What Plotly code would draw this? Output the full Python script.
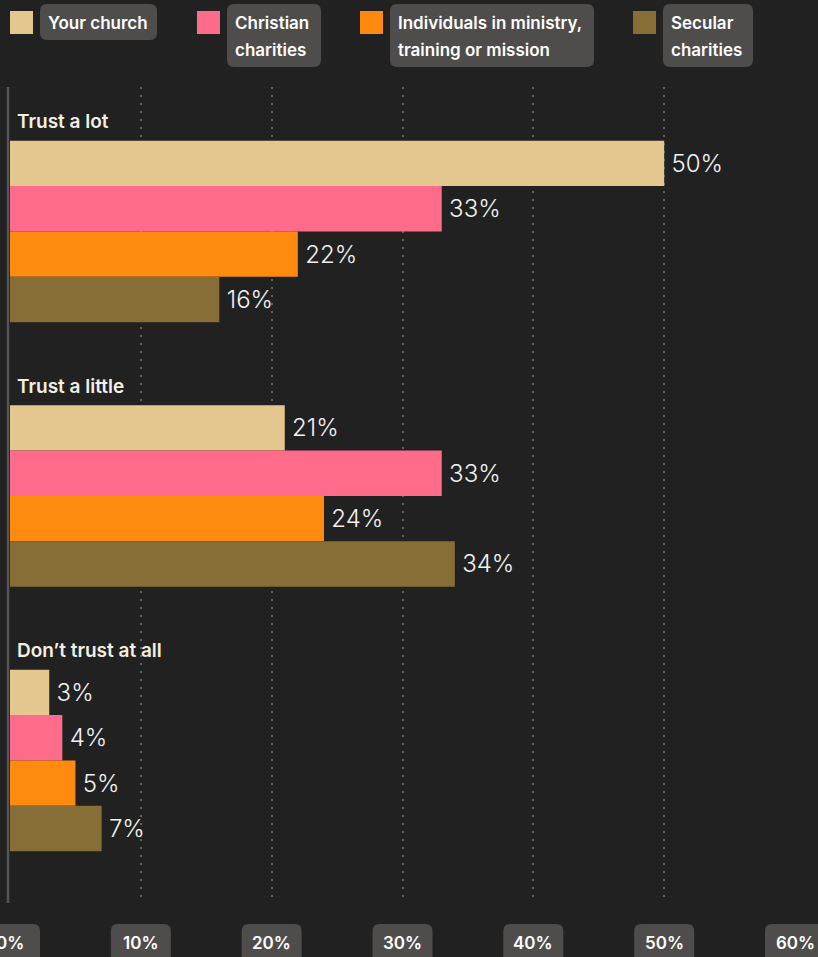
import plotly.graph_objects as go

# ---- data -------------------------------------------------------------
groups = ["Trust a lot", "Trust a little", "Don\u2019t trust at all"]
series_names = ["Your church", "Christian charities",
                "Individuals in ministry, training or mission", "Secular charities"]
legend_lines = [["Your church"], ["Christian", "charities"],
                ["Individuals in ministry,", "training or mission"], ["Secular", "charities"]]
your_church = [50, 21, 3]
christian_charities = [33, 33, 4]
individuals = [22, 24, 5]
secular_charities = [16, 34, 7]
series_values = [your_church, christian_charities, individuals, secular_charities]
colors = ["#E4C78F", "#FF6B8A", "#FF8A10", "#876D36"]
tick_values = [0, 10, 20, 30, 40, 50, 60]
tick_labels = [f"{v}%" for v in tick_values]

# ---- layout constants ---------------------------------------------------
W, H = 818, 957
L, R, T, B = 10, 23, 87, 54
PW, PH = W - L - R, H - T - B
BG = "#212121"
BOX = "#4E4D4C"
FONT = "Inter"


def px_x(p):
    return (p - L) / PW


def px_y(p):
    return (H - B - p) / PH


def rounded_rect(x0, y0, x1, y1, r):
    """Rounded rectangle path, given in page pixels, expressed in paper coords."""
    pts = [
        ("M", (x0 + r, y0)), ("L", (x1 - r, y0)), ("Q", (x1, y0), (x1, y0 + r)),
        ("L", (x1, y1 - r)), ("Q", (x1, y1), (x1 - r, y1)), ("L", (x0 + r, y1)),
        ("Q", (x0, y1), (x0, y1 - r)), ("L", (x0, y0 + r)), ("Q", (x0, y0), (x0 + r, y0)),
    ]
    out = []
    for cmd, *coords in pts:
        out.append(cmd + " ".join(f"{px_x(x):.5f},{px_y(y):.5f}" for x, y in coords))
    return " ".join(out) + " Z"


fig = go.Figure()

for name, vals, col in zip(series_names, series_values, colors):
    fig.add_trace(go.Bar(
        y=groups, x=vals, name=name, orientation="h",
        marker=dict(color=col, line=dict(width=0)),
        text=vals, texttemplate="\u2009%{x}%", textposition="outside",
        textfont=dict(family=FONT, size=24, color="#F2F2F2", weight=300),
        cliponaxis=False, hoverinfo="skip",
    ))

shapes = []
annotations = []

# left axis rule
shapes.append(dict(type="line", xref="paper", yref="paper",
                   x0=px_x(8), x1=px_x(8), y0=0, y1=1,
                   line=dict(color="#555555", width=2.5)))

# group headings
for g in groups:
    annotations.append(dict(
        x=0, y=g, xref="x", yref="y", xanchor="left", yanchor="middle",
        xshift=5, yshift=109.5, text=g, showarrow=False,
        font=dict(family=FONT, size=19, color="#F3EFE2", weight=600),
    ))

# x tick badges
for v, lab in zip(tick_values, tick_labels):
    cx = L + v / 60 * PW
    shapes.append(dict(type="path", xref="paper", yref="paper", layer="above",
                       path=rounded_rect(cx - 30, 924, cx + 30, 975, 7),
                       fillcolor=BOX, line=dict(width=0)))
    annotations.append(dict(
        x=px_x(cx), y=px_y(943), xref="paper", yref="paper",
        xanchor="center", yanchor="middle", text=lab, showarrow=False,
        font=dict(family=FONT, size=17, color="#FFFFFF", weight=600),
    ))

# legend: colour swatch + rounded label box
legend_x = [10, 197, 360, 633]
legend_w = [117, 94, 204, 90]
for lx, bw, lines, col in zip(legend_x, legend_w, legend_lines, colors):
    shapes.append(dict(type="rect", xref="paper", yref="paper",
                       x0=px_x(lx), x1=px_x(lx + 23), y0=px_y(34), y1=px_y(11),
                       fillcolor=col, line=dict(width=0)))
    bh = 36 if len(lines) == 1 else 63
    shapes.append(dict(type="path", xref="paper", yref="paper",
                       path=rounded_rect(lx + 30, 4, lx + 30 + bw, 4 + bh, 7),
                       fillcolor=BOX, line=dict(width=0)))
    for i, line in enumerate(lines):
        annotations.append(dict(
            x=px_x(lx + 36), y=px_y(23 + 27 * i), xref="paper", yref="paper",
            xanchor="left", yanchor="middle", text=line, showarrow=False,
            font=dict(family=FONT, size=17, color="#FFFFFF", weight=600),
        ))

fig.update_layout(
    width=W, height=H,
    margin=dict(l=L, r=R, t=T, b=B),
    paper_bgcolor=BG, plot_bgcolor=BG,
    barmode="group", bargap=0.314, bargroupgap=0,
    showlegend=False,
    shapes=shapes, annotations=annotations,
    xaxis=dict(range=[0, 60], tickvals=tick_values, showticklabels=False,
               showgrid=True, gridcolor="#626262", gridwidth=2, griddash="2px,6px",
               zeroline=False, showline=False, ticks="", fixedrange=True),
    yaxis=dict(categoryorder="array", categoryarray=groups,
               range=[2.539, -0.546], showticklabels=False, showgrid=False,
               zeroline=False, showline=False, ticks="", fixedrange=True),
)

fig.write_html("out.html")
